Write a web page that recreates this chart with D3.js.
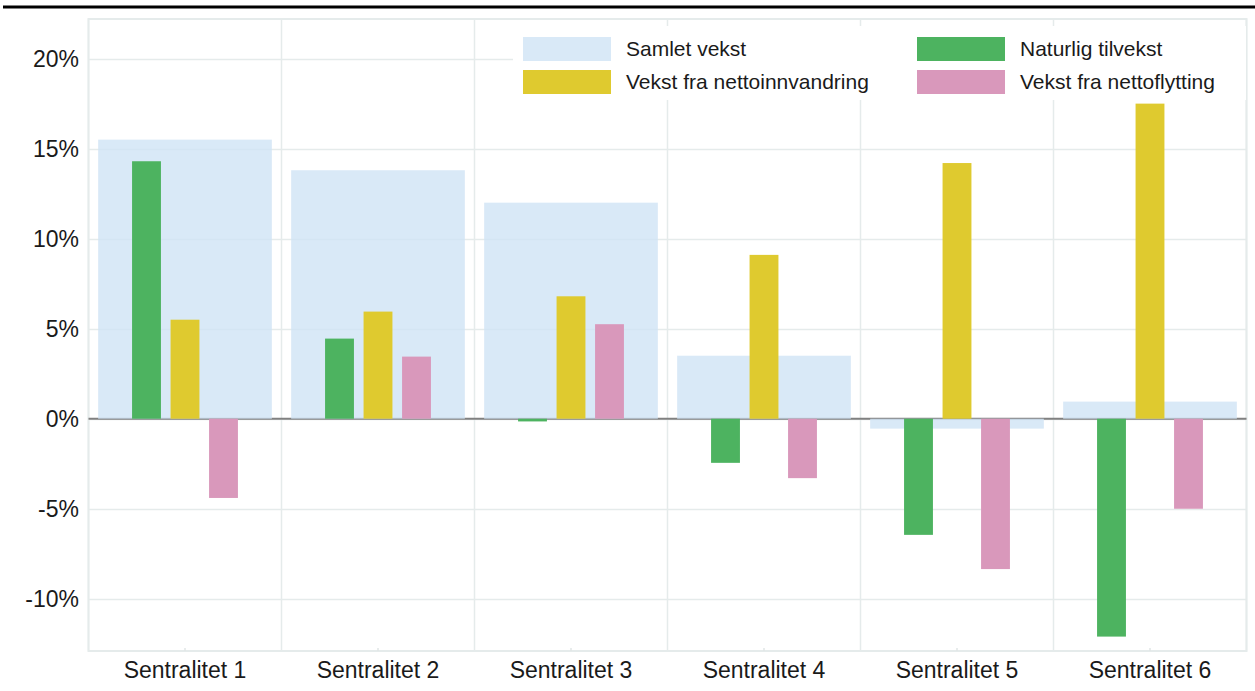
<!DOCTYPE html>
<html>
<head>
<meta charset="utf-8">
<script src="https://cdn.jsdelivr.net/npm/d3@7"></script>
<style>
  html, body { margin: 0; padding: 0; background: #fff; }
  svg { display: block; font-family: "Liberation Sans", Arial, sans-serif; }
</style>
</head>
<body>
<svg id="chart" width="1255" height="691"></svg>
<script>
const categories = ["Sentralitet 1", "Sentralitet 2", "Sentralitet 3", "Sentralitet 4", "Sentralitet 5", "Sentralitet 6"];
const samletVekst = [15.5, 13.8, 12.0, 3.5, -0.55, 0.95];
const naturligTilvekst = [14.3, 4.45, -0.15, -2.45, -6.45, -12.1];
const nettoinnvandring = [5.5, 5.95, 6.8, 9.1, 14.2, 17.5];
const nettoflytting = [-4.4, 3.45, 5.25, -3.3, -8.35, -5.0];
const seriesNames = ["Samlet vekst", "Naturlig tilvekst", "Vekst fra nettoinnvandring", "Vekst fra nettoflytting"];
const yTicks = [-10, -5, 0, 5, 10, 15, 20];

const colors = {
  "Samlet vekst": "#cfe3f5",
  "Naturlig tilvekst": "#4db360",
  "Vekst fra nettoinnvandring": "#dfca2f",
  "Vekst fra nettoflytting": "#d998bb"
};

const svg = d3.select("#chart");
const pLeft = 88.5, pRight = 1246.5, pTop = 19, pBottom = 651;

const x = d3.scaleBand().domain(categories).range([pLeft, pRight]).paddingInner(0.1).paddingOuter(0.05);
const step = x.step();
const y = d3.scaleLinear().domain([-12.9, 22.2]).range([pBottom, pTop]);

const small = [
  { name: "Naturlig tilvekst", values: naturligTilvekst },
  { name: "Vekst fra nettoinnvandring", values: nettoinnvandring },
  { name: "Vekst fra nettoflytting", values: nettoflytting }
];
const x1 = d3.scaleBand().domain(small.map(d => d.name)).range([-57.75, 57.75]).paddingInner(0.25).paddingOuter(0.125);

const gridColor = "#e5ebeb";

// top black line
svg.append("line").attr("x1", 3).attr("x2", 1255).attr("y1", 7).attr("y2", 7)
  .attr("stroke", "#000").attr("stroke-width", 3);

// horizontal gridlines
svg.append("g").selectAll("line").data(yTicks).join("line")
  .attr("x1", pLeft).attr("x2", pRight)
  .attr("y1", d => Math.round(y(d)) + 0.5).attr("y2", d => Math.round(y(d)) + 0.5)
  .attr("stroke", gridColor).attr("stroke-width", 1.5);

// vertical gridlines (band boundaries)
const bounds = categories.map((c, i) => pLeft + i * step).concat([pRight]);
svg.append("g").selectAll("line").data(bounds).join("line")
  .attr("x1", d => d).attr("x2", d => d).attr("y1", pTop).attr("y2", pBottom)
  .attr("stroke", gridColor).attr("stroke-width", 1.5);

// plot frame
svg.append("rect").attr("x", pLeft).attr("y", pTop).attr("width", pRight - pLeft).attr("height", pBottom - pTop)
  .attr("fill", "none").attr("stroke", gridColor).attr("stroke-width", 2);

// small ticks at bottom
svg.append("g").selectAll("line").data(categories).join("line")
  .attr("x1", d => x(d) + x.bandwidth() / 2).attr("x2", d => x(d) + x.bandwidth() / 2)
  .attr("y1", pBottom - 3).attr("y2", pBottom)
  .attr("stroke", "#e0e6e6").attr("stroke-width", 1.5);

// zero line
svg.append("line").attr("x1", pLeft).attr("x2", pRight)
  .attr("y1", y(0)).attr("y2", y(0))
  .attr("stroke", "#808080").attr("stroke-width", 2);

// Samlet vekst bars (semi-transparent)
svg.append("g").selectAll("rect").data(categories).join("rect")
  .attr("x", d => x(d))
  .attr("width", x.bandwidth())
  .attr("y", (d, i) => Math.min(y(samletVekst[i]), y(0)))
  .attr("height", (d, i) => Math.abs(y(samletVekst[i]) - y(0)))
  .attr("fill", colors["Samlet vekst"]).attr("opacity", 0.8);

// component bars
small.forEach(s => {
  svg.append("g").selectAll("rect").data(categories).join("rect")
    .attr("x", d => x(d) + x.bandwidth() / 2 + x1(s.name))
    .attr("width", x1.bandwidth())
    .attr("y", (d, i) => Math.min(y(s.values[i]), y(0)))
    .attr("height", (d, i) => Math.abs(y(s.values[i]) - y(0)))
    .attr("fill", colors[s.name]);
});

// y tick labels
svg.append("g").selectAll("text").data(yTicks).join("text")
  .attr("x", 79).attr("y", d => y(d))
  .attr("dy", "0.36em")
  .attr("text-anchor", "end")
  .attr("font-size", 23).attr("fill", "#1a1a1a")
  .text(d => d + "%");

// category labels
svg.append("g").selectAll("text").data(categories).join("text")
  .attr("x", d => x(d) + x.bandwidth() / 2).attr("y", 678)
  .attr("text-anchor", "middle")
  .attr("font-size", 23).attr("fill", "#1a1a1a")
  .text(d => d);

// legend
const lg = svg.append("g");
lg.append("rect").attr("x", 513).attr("y", 26).attr("width", 733).attr("height", 74).attr("fill", "#fff");
const legendPos = [
  { name: "Samlet vekst", x: 523, y: 37 },
  { name: "Naturlig tilvekst", x: 917, y: 37 },
  { name: "Vekst fra nettoinnvandring", x: 523, y: 70 },
  { name: "Vekst fra nettoflytting", x: 917, y: 70 }
];
const li = lg.selectAll("g").data(legendPos).join("g");
li.append("rect").attr("x", d => d.x).attr("y", d => d.y).attr("width", 88).attr("height", 24)
  .attr("fill", d => colors[d.name]).attr("opacity", d => d.name === "Samlet vekst" ? 0.8 : 1);
li.append("text").attr("x", d => d.x + 103).attr("y", d => d.y + 19)
  .attr("font-size", 21).attr("fill", "#1a1a1a")
  .text(d => d.name);
</script>
</body>
</html>
